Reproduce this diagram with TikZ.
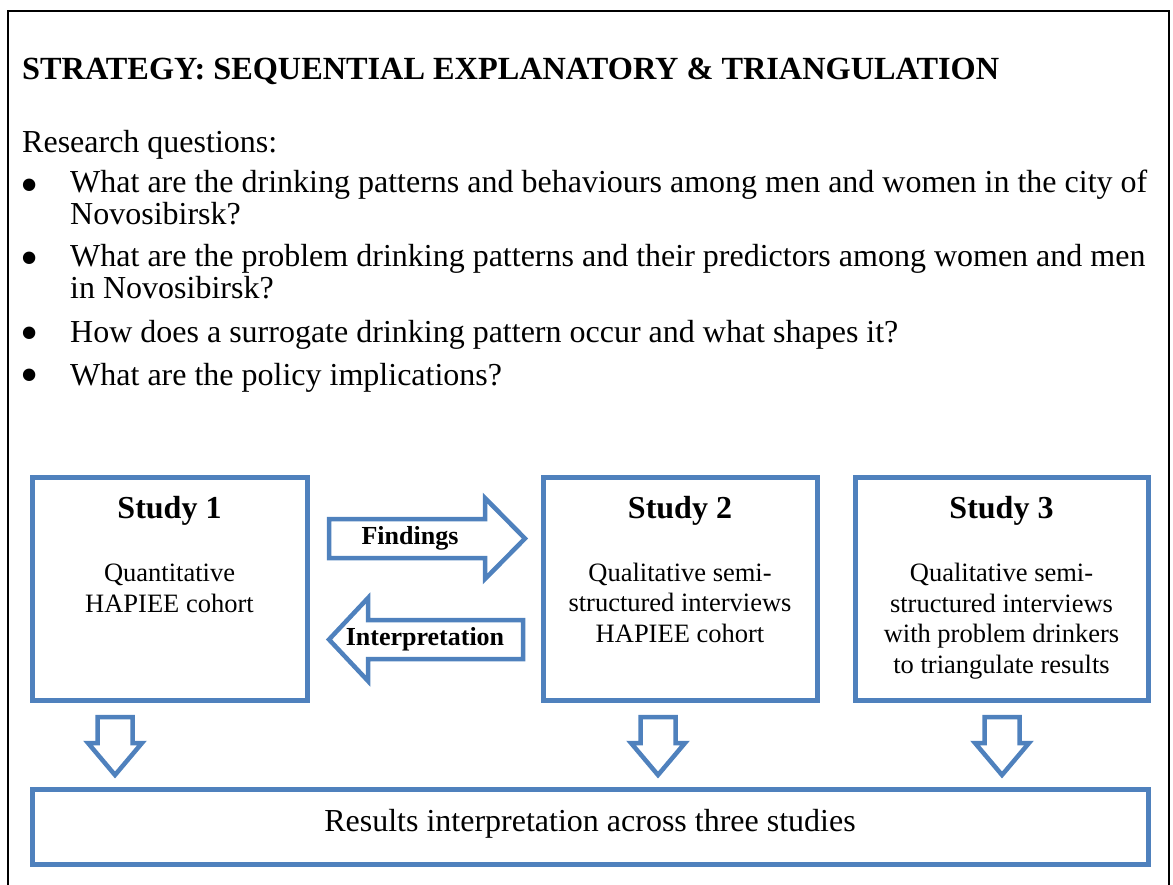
\documentclass[tikz,border=0pt]{standalone}
\usepackage{fontspec}
\setmainfont{Liberation Serif}
\usepackage{tikz}
\usetikzlibrary{positioning, calc}
\usepackage{xcolor}
\definecolor{officeblue}{RGB}{79,129,189}

\begin{document}
\begin{tikzpicture}[x=1pt, y=-1pt,
		bluebox/.style={draw=officeblue, line width=5pt, inner sep=0pt},
		blockarrow/.style={draw=officeblue, line width=4.5pt, fill=white, line join=miter},
		bodytext/.style={inner sep=0pt, font=\fontsize{32}{32}\selectfont},
		bulletmark/.style={inner sep=0pt, font=\fontsize{52}{52}\selectfont},
		boxtext/.style={inner sep=0pt, align=center, font=\fontsize{26.5}{30.7}\selectfont},
		headtext/.style={inner sep=0pt, font=\bfseries\fontsize{32}{36}\selectfont},
		arrowtext/.style={inner sep=0pt, font=\bfseries\fontsize{26}{30}\selectfont}]
	\useasboundingbox (0,0) rectangle (1173,885);
	% frame
	\draw[line width=2.5pt] (8,900) -- (8,11) -- (1169,11) -- (1169,900);
	% heading and questions
	\node[inner sep=0pt, anchor=base west, font=\bfseries\fontsize{32.3}{36}\selectfont] (title) at (22,80) {STRATEGY: SEQUENTIAL EXPLANATORY \& TRIANGULATION};
	\node[bodytext, anchor=base west] (rq) at (22,153) {Research questions:};
	\foreach \y [count=\i] in {191,264,339,381}
		\node[bulletmark] (dot\i) at (30,\y) {\textbullet};
	% multi-line nodes: base is the last line
	\node[bodytext, anchor=base west, align=left] (q1) at (70,225) {What are the drinking patterns and behaviours among men and women in the city of\\Novosibirsk?};
	\node[bodytext, anchor=base west, align=left] (q2) at (70,299) {What are the problem drinking patterns and their predictors among women and men\\in Novosibirsk?};
	\node[bodytext, anchor=base west] (q3) at (70,343) {How does a surrogate drinking pattern occur and what shapes it?};
	\node[bodytext, anchor=base west] (q4) at (70,385) {What are the policy implications?};
	% study boxes
	\node[bluebox, minimum width=275, minimum height=223] (s1) at (169.5,588.5) {};
	\node[bluebox, minimum width=274, minimum height=223] (s2) at (680,588.5) {};
	\node[bluebox, minimum width=293, minimum height=223] (s3) at (1001.5,588.5) {};
	\node[headtext, anchor=base] (h1) at ($(s1.north)+(0,44)$) {Study 1};
	\node[headtext, anchor=base] (h2) at ($(s2.north)+(0,44)$) {Study 2};
	\node[headtext, anchor=base] (h3) at ($(s3.north)+(0,44)$) {Study 3};
	\node[boxtext, anchor=base] (d1) at ($(s1.north)+(0,138)$) {Quantitative\\HAPIEE cohort};
	\node[boxtext, anchor=base] (d2) at ($(s2.north)+(0,168)$) {Qualitative semi-\\structured interviews\\HAPIEE cohort};
	\node[boxtext, anchor=base] (d3) at ($(s3.north)+(0,199)$) {Qualitative semi-\\structured interviews\\with problem drinkers\\to triangulate results};
	% results box
	\node[bluebox, minimum width=1116, minimum height=75] (res) at (590,826.5) {};
	\node[inner sep=0pt, anchor=base, font=\fontsize{32}{36}\selectfont] (rtext) at ($(res.center)+(0,5)$) {Results interpretation across three studies};
	% arrows between studies
	\draw[blockarrow] (329,519) -- (485,519) -- (485,498) -- (525,538.5) -- (485,579) -- (485,558) -- (329,558) -- cycle;
	\node[arrowtext] (find) at (410,538.5) {Findings};
	\draw[blockarrow] (523,620) -- (368,620) -- (368,598) -- (329,639.5) -- (368,681) -- (368,659) -- (523,659) -- cycle;
	\node[arrowtext] (interp) at (425,639.5) {Interpretation};
	% down arrows
	\foreach \x in {115,658,1002}
		\draw[blockarrow] (\x-17.5,717) -- (\x+17.5,717) -- (\x+17.5,743) -- (\x+27,743) -- (\x,775) -- (\x-27,743) -- (\x-17.5,743) -- cycle;
\end{tikzpicture}
\end{document}
